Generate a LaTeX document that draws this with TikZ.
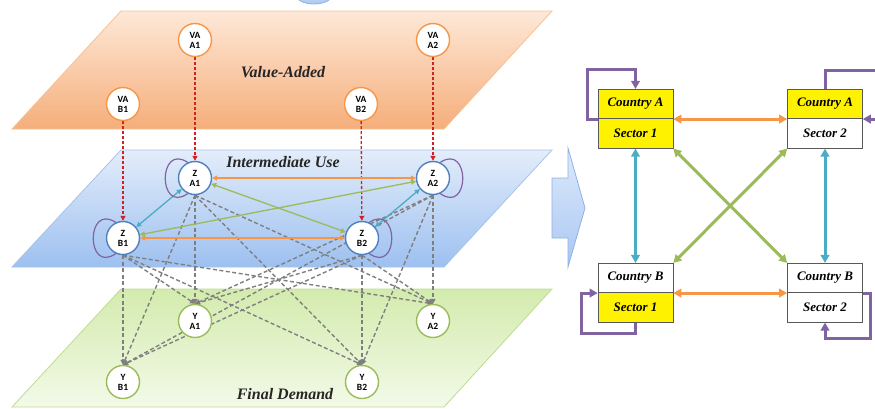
\documentclass[tikz,border=0pt]{standalone}
\usepackage{fontspec}
\setmainfont{Liberation Serif}
\newfontfamily\nodefont{Carlito}
\usetikzlibrary{arrows.meta,calc}
\definecolor{cOrange}{HTML}{F79646}
\definecolor{cTeal}{HTML}{4BACC6}
\definecolor{cGreen}{HTML}{9BBB59}
\definecolor{cPurple}{HTML}{8064A2}
\definecolor{cBlue}{HTML}{4F81BD}
\definecolor{cRed}{HTML}{D42020}
\definecolor{cGrey}{HTML}{7F7F7F}
\definecolor{oTop}{HTML}{FEE8D8}
\definecolor{oBot}{HTML}{F5AE7A}
\definecolor{oEdge}{HTML}{F9C18F}
\definecolor{bTop}{HTML}{E3EDFA}
\definecolor{bBot}{HTML}{9DC0F0}
\definecolor{bEdge}{HTML}{A6C3EA}
\definecolor{gTop}{HTML}{D3EBAE}
\definecolor{gBot}{HTML}{F3FAE9}
\definecolor{gEdge}{HTML}{BEDC92}
\definecolor{chTop}{HTML}{DDE9FB}
\definecolor{chBot}{HTML}{A9C7F2}
\definecolor{chEdge}{HTML}{8EB2E6}
\definecolor{boxEdge}{HTML}{595959}
\pgfdeclarelayer{bg}
\pgfsetlayers{bg,main}
\tikzset{
  circnode/.style={circle, fill=white, line width=1.4pt, minimum size=33pt, inner sep=0pt,
    align=center, font=\nodefont\bfseries\fontsize{9.5}{10}\selectfont},
  vanode/.style={circnode, draw=cOrange},
  znode/.style={circnode, draw=cBlue},
  ynode/.style={circnode, draw=cGreen},
  planelabel/.style={font=\bfseries\itshape\fontsize{16}{16}\selectfont, text=black!85},
  cbox/.style={draw=boxEdge, line width=0.6pt, minimum width=75pt, minimum height=29.5pt,
    inner sep=0pt, font=\bfseries\itshape\fontsize{13}{13}\selectfont},
  smalltip/.style={-{Triangle[length=5pt,width=5pt]}},
  bothsmall/.style={{Triangle[length=5pt,width=5pt]}-{Triangle[length=5pt,width=5pt]}},
  oarrow/.style={bothsmall, draw=cOrange, line width=1.3pt},
  tarrow/.style={bothsmall, draw=cTeal, line width=1.3pt},
  garrow/.style={bothsmall, draw=cGreen, line width=1.3pt},
  redflow/.style={smalltip, draw=cRed, line width=1.3pt, dash pattern=on 3pt off 2pt},
  greyflow/.style={smalltip, draw=cGrey, line width=1.4pt, dash pattern=on 4pt off 2.5pt},
  zloop/.style={draw=cPurple, line width=1.2pt},
  bigboth/.style={{Triangle[length=8pt,width=8.5pt]}-{Triangle[length=8pt,width=8.5pt]}, line width=3pt},
  bigone/.style={-{Triangle[length=8pt,width=8.5pt]}, line width=3pt, draw=cPurple},
}
\begin{document}
\begin{tikzpicture}[x=1pt,y=-1pt]
\useasboundingbox (0,0) rectangle (875,408);

% ---------- planes ----------
\begin{pgfonlayer}{bg}
\shadedraw[top color=chTop, bottom color=chBot, draw=chEdge, line width=0.8pt]
  (314,-5) ellipse [x radius=18pt, y radius=9pt];
\shadedraw[top color=oTop, bottom color=oBot, draw=oEdge, line width=0.8pt]
  (121,11) -- (552,11) -- (444,129) -- (12,129) -- cycle;
\shadedraw[top color=bTop, bottom color=bBot, draw=bEdge, line width=0.8pt]
  (121,150) -- (552,150) -- (444,267) -- (12,267) -- cycle;
\shadedraw[top color=gTop, bottom color=gBot, draw=gEdge, line width=0.8pt]
  (121,289) -- (552,289) -- (444,407) -- (12,407) -- cycle;
% chevron arrow
\shadedraw[top color=chTop, bottom color=chBot, draw=chEdge, line width=0.8pt]
  (552,178) -- (568,178) -- (568,148) -- (585,208) -- (568,267) -- (568,238) -- (552,238) -- cycle;
\end{pgfonlayer}

% ---------- plane labels ----------
\node[planelabel] (lva) at (283,72) {Value-Added};
\node[planelabel] (liu) at (283,162) {Intermediate Use};
\node[planelabel] (lfd) at (285,394) {Final Demand};

% ---------- left nodes ----------
\node[vanode] (vaa1) at (195,40) {VA\\A1};
\node[vanode] (vaa2) at (433,40) {VA\\A2};
\node[vanode] (vab1) at (123,104) {VA\\B1};
\node[vanode] (vab2) at (361,104) {VA\\B2};
\node[znode] (za1) at (195,178) {Z\\A1};
\node[znode] (za2) at (433,178) {Z\\A2};
\node[znode] (zb1) at (123,238) {Z\\B1};
\node[znode] (zb2) at (362,238) {Z\\B2};
\node[ynode] (ya1) at (195,321) {Y\\A1};
\node[ynode] (ya2) at (433,321) {Y\\A2};
\node[ynode] (yb1) at (123,382) {Y\\B1};
\node[ynode] (yb2) at (362,382) {Y\\B2};

% ---------- left connectors ----------
\begin{pgfonlayer}{bg}
\foreach \z in {za1,za2,zb1,zb2}{
  \foreach \y in {ya1,ya2,yb1,yb2}{
    \draw[greyflow] (\z.south) -- (\y.north);
  }
}
\draw[redflow] (vaa1) -- (za1);
\draw[redflow] (vaa2) -- (za2);
\draw[redflow] (vab1) -- (zb1);
\draw[redflow] (vab2) -- (zb2);
\draw[oarrow] (za1) -- (za2);
\draw[oarrow] (zb1) -- (zb2);
\draw[tarrow] (za1) -- (zb1);
\draw[tarrow] (za2) -- (zb2);
\draw[garrow] (za1) -- (zb2);
\draw[garrow] (za2) -- (zb1);
\draw[zloop] (za1.115) .. controls +(-30,-20) and +(-30,21) .. (za1.245);
\draw[zloop] (zb1.115) .. controls +(-30,-20) and +(-30,21) .. (zb1.245);
\draw[zloop] (za2.65) .. controls +(30,-20) and +(30,21) .. (za2.295);
\draw[zloop] (zb2.65) .. controls +(30,-20) and +(30,21) .. (zb2.295);
\end{pgfonlayer}

% ---------- right panel boxes ----------
\node[cbox, fill=yellow] (ca1t) at (635.5,104) {Country A};
\node[cbox, fill=yellow] (ca1b) at (635.5,133.5) {Sector 1};
\node[cbox, fill=yellow] (ca2t) at (825,104) {Country A};
\node[cbox, fill=white]  (ca2b) at (825,133.5) {Sector 2};
\node[cbox, fill=white]  (cb1t) at (635.5,278) {Country B};
\node[cbox, fill=yellow] (cb1b) at (635.5,307.5) {Sector 1};
\node[cbox, fill=white]  (cb2t) at (825,278) {Country B};
\node[cbox, fill=white]  (cb2b) at (825,307.5) {Sector 2};

% ---------- right panel connectors ----------
\draw[bigboth, draw=cOrange] (ca1t.south east) -- (ca2t.south west);
\draw[bigboth, draw=cOrange] (cb1t.south east) -- (cb2t.south west);
\draw[bigboth, draw=cTeal] (ca1b.south) -- (cb1t.north);
\draw[bigboth, draw=cTeal] (ca2b.south) -- (cb2t.north);
\draw[bigboth, draw=cGreen] (ca1b.south east) -- (cb2t.north west);
\draw[bigboth, draw=cGreen] (ca2b.south west) -- (cb1t.north east);
\draw[bigone] (ca1t.south west) -| (587,69) -| (ca1t.north);
\draw[bigone] (ca2t.north) |- (882,70) |- (ca2t.south east);
\draw[bigone] (cb1b.south) |- (581,333) |- (cb1t.south west);
\draw[bigone] (cb2t.south east) -| (870,338) -| (cb2b.south);
\end{tikzpicture}
\end{document}
